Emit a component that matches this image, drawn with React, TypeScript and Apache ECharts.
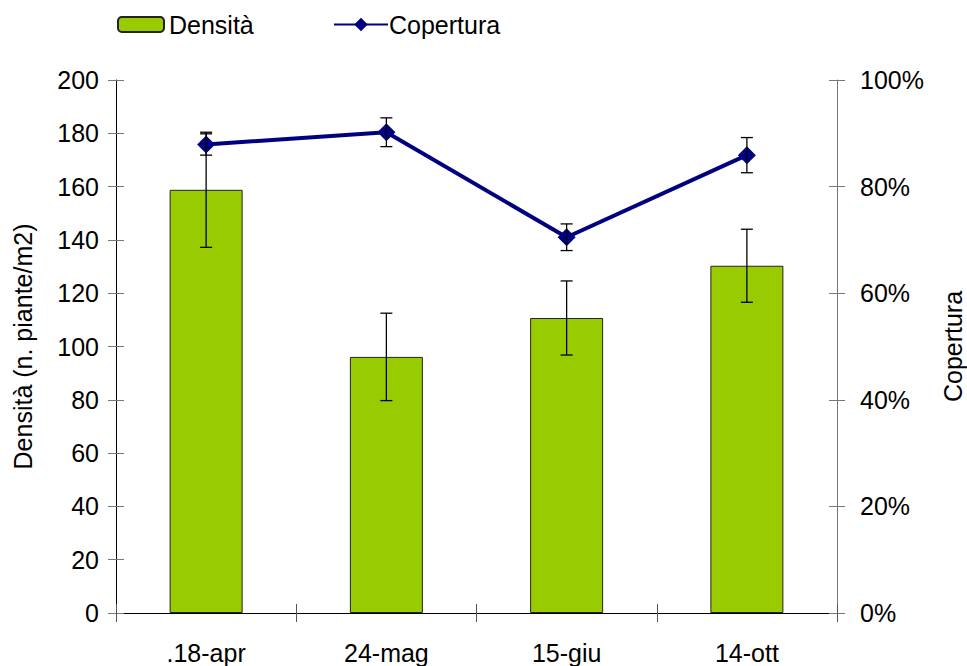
import React, { useEffect, useRef } from "react";
import * as echarts from "echarts";

const categories = [".18-apr", "24-mag", "15-giu", "14-ott"];
const densita = [158.8, 96.1, 110.7, 130.3];
const densitaErr = [21.6, 16.4, 13.9, 13.7];
const copertura = [87.9, 90.2, 70.5, 85.9];
const coperturaErr = [2.0, 2.7, 2.5, 3.3];

const FONT = "Liberation Sans, Arial, sans-serif";
const FS = 25;

export default function App() {
  const ref = useRef<HTMLDivElement>(null);
  useEffect(() => {
    if (!ref.current) return;
    const chart = echarts.init(ref.current, null, { renderer: "svg" });

    const errData = (vals: number[], errs: number[]) =>
      vals.map((v, i) => [i, v - errs[i], v + errs[i]]);

    const errRender = (cap: number) => (params: any, api: any) => {
      const x = api.value(0);
      const lo = api.coord([x, api.value(1)]);
      const hi = api.coord([x, api.value(2)]);
      const style = { stroke: "#000", lineWidth: 1.3 };
      return {
        type: "group",
        children: [
          { type: "line", shape: { x1: lo[0], y1: lo[1], x2: hi[0], y2: hi[1] }, style },
          { type: "line", shape: { x1: lo[0] - cap, y1: lo[1], x2: lo[0] + cap, y2: lo[1] }, style },
          { type: "line", shape: { x1: hi[0] - cap, y1: hi[1], x2: hi[0] + cap, y2: hi[1] }, style },
        ],
      };
    };

    const baseY = (extra: any) => ({
      type: "value",
      splitLine: { show: false },
      ...extra,
    });

    const legendText = { fontFamily: FONT, fontSize: FS, color: "#000" };

    chart.setOption({
      animation: false,
      textStyle: { fontFamily: FONT, color: "#000" },
      legend: [
        {
          left: 112,
          top: 7,
          itemWidth: 46,
          itemHeight: 15,
          data: ["Densità"],
          textStyle: legendText,
        },
        {
          left: 328,
          top: 7,
          itemWidth: 54,
          itemHeight: 17,
          data: ["Copertura"],
          textStyle: { ...legendText, padding: [0, 0, 0, -4] },
        },
      ],
      grid: { left: 116, right: 130, top: 80, bottom: 53, outerBoundsMode: "none", containLabel: false },
      xAxis: [
        {
          type: "category",
          data: categories,
          boundaryGap: true,
          axisLine: { lineStyle: { color: "#000", width: 1 } },
          axisTick: { show: true, length: 9, lineStyle: { color: "#555" } },
          axisLabel: { fontFamily: FONT, fontSize: FS, color: "#000", margin: 27 },
        },
        {
          type: "category",
          data: categories,
          position: "bottom",
          boundaryGap: true,
          axisLine: { show: false },
          axisTick: { show: true, inside: true, length: 9, lineStyle: { color: "#555" } },
          axisLabel: { show: false },
        },
      ],
      yAxis: [
        baseY({
          position: "left",
          min: 0,
          max: 200,
          interval: 20,
          name: "Densità (n. piante/m2)",
          nameLocation: "middle",
          nameGap: 81,
          nameTextStyle: { fontFamily: FONT, fontSize: FS, color: "#000" },
          axisLine: { show: true, lineStyle: { color: "#000" } },
          axisTick: { show: true, length: 8, lineStyle: { color: "#777" } },
          axisLabel: { fontFamily: FONT, fontSize: FS, color: "#000", margin: 17 },
        }),
        baseY({
          position: "right",
          min: 0,
          max: 100,
          interval: 20,
          name: "Copertura",
          nameLocation: "middle",
          nameGap: 103,
          nameTextStyle: { fontFamily: FONT, fontSize: FS, color: "#000" },
          axisLine: { show: true, lineStyle: { color: "#777" } },
          axisTick: { show: true, length: 8, lineStyle: { color: "#777" } },
          axisLabel: { fontFamily: FONT, fontSize: FS, color: "#000", margin: 23, formatter: "{value}%" },
        }),
        baseY({
          position: "left",
          min: 0,
          max: 200,
          interval: 20,
          axisLine: { show: false },
          axisTick: { show: true, inside: true, length: 8, lineStyle: { color: "#777" } },
          axisLabel: { show: false },
        }),
        baseY({
          position: "right",
          min: 0,
          max: 100,
          interval: 20,
          axisLine: { show: false },
          axisTick: { show: true, inside: true, length: 8, lineStyle: { color: "#777" } },
          axisLabel: { show: false },
        }),
      ],
      series: [
        {
          name: "Densità",
          type: "bar",
          data: densita,
          barWidth: 73,
          yAxisIndex: 0,
          z: 2,
          itemStyle: { color: "#99CC00", borderColor: "#222", borderWidth: 1 },
        },
        {
          name: "errDensita",
          type: "custom",
          yAxisIndex: 0,
          z: 3,
          data: errData(densita, densitaErr),
          renderItem: errRender(6),
          encode: { x: 0, y: [1, 2] },
        },
        {
          name: "Copertura",
          type: "line",
          data: copertura,
          yAxisIndex: 1,
          z: 4,
          symbol: "diamond",
          symbolSize: 18,
          lineStyle: { color: "#000080", width: 4 },
          itemStyle: { color: "#000080" },
        },
        {
          name: "errCopertura",
          type: "custom",
          yAxisIndex: 1,
          z: 5,
          data: errData(copertura, coperturaErr),
          renderItem: errRender(6),
          encode: { x: 0, y: [1, 2] },
        },
      ],
    });
    return () => chart.dispose();
  }, []);
  return <div ref={ref} style={{ width: 967, height: 666, position: "absolute", left: 0, top: 0 }} />;
}
